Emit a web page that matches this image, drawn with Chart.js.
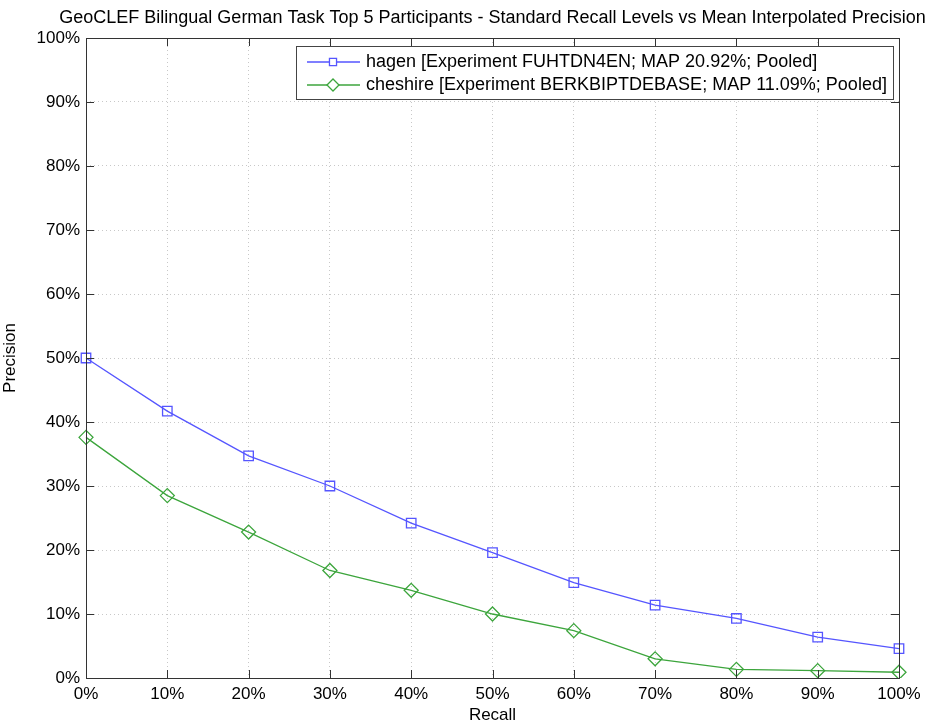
<!DOCTYPE html>
<html>
<head>
<meta charset="utf-8">
<script src="https://cdn.jsdelivr.net/npm/chart.js@4.4.1/dist/chart.umd.min.js"></script>
<style>
  html, body { margin: 0; padding: 0; background: #fff; }
  #wrap { width: 930px; height: 726px; position: relative; }
</style>
</head>
<body>
<div id="wrap"><canvas id="prChart" width="930" height="726"></canvas></div>
<script>
// recall levels and interpolated precision
const recallLevels = ['0%', '10%', '20%', '30%', '40%', '50%', '60%', '70%', '80%', '90%', '100%'];
const hagenPrecision = [50.0, 41.7, 34.7, 30.0, 24.2, 19.6, 14.9, 11.4, 9.3, 6.4, 4.6];
const cheshirePrecision = [37.6, 28.5, 22.8, 16.8, 13.7, 10.0, 7.4, 3.0, 1.35, 1.15, 0.9];
const yTicks = [0, 10, 20, 30, 40, 50, 60, 70, 80, 90, 100];

const titleText = 'GeoCLEF Bilingual German Task Top 5 Participants - Standard Recall Levels vs Mean Interpolated Precision';
const fontFamily = '"Liberation Sans", Arial, Helvetica, sans-serif';

// title, box, inward ticks and legend drawn the matlab way
const matlabLook = {
    id: 'matlabLook',
    afterDraw(chart) {
        const ctx = chart.ctx;
        const area = chart.chartArea;
        const xs = chart.scales.x;
        const ys = chart.scales.y;

        ctx.save();
        // title
        ctx.fillStyle = '#000';
        ctx.font = '18px ' + fontFamily;
        ctx.textAlign = 'center';
        ctx.textBaseline = 'middle';
        ctx.fillText(titleText, (area.left + area.right) / 2, 18);

        // box
        ctx.strokeStyle = '#333';
        ctx.lineWidth = 1;
        ctx.strokeRect(area.left + 0.5, area.top + 0.5, area.right - area.left, area.bottom - area.top);

        // inward ticks on all four sides
        const len = 8;
        ctx.beginPath();
        for (let i = 0; i < recallLevels.length; i++) {
            const px = Math.round(xs.getPixelForValue(i)) + 0.5;
            ctx.moveTo(px, area.bottom); ctx.lineTo(px, area.bottom - len);
            ctx.moveTo(px, area.top); ctx.lineTo(px, area.top + len);
        }
        yTicks.forEach(function (v) {
            const py = Math.round(ys.getPixelForValue(v)) + 0.5;
            ctx.moveTo(area.left, py); ctx.lineTo(area.left + len, py);
            ctx.moveTo(area.right, py); ctx.lineTo(area.right - len, py);
        });
        ctx.stroke();

        // legend box inside top right
        const box = { x: 296, y: 46, w: 597, h: 53 };
        ctx.fillStyle = '#fff';
        ctx.fillRect(box.x, box.y, box.w, box.h);
        ctx.strokeStyle = '#444';
        ctx.strokeRect(box.x + 0.5, box.y + 0.5, box.w, box.h);

        const rows = [62, 85];
        chart.data.datasets.forEach(function (ds, i) {
            const y = rows[i];
            ctx.strokeStyle = ds.borderColor;
            ctx.lineWidth = ds.borderWidth;
            ctx.beginPath();
            ctx.moveTo(307, y); ctx.lineTo(360, y);
            ctx.stroke();
            ctx.fillStyle = '#fff';
            Chart.helpers.drawPoint(ctx, {
                pointStyle: ds.pointStyle,
                radius: ds.pointStyle === 'rect' ? 5 : 6,
                rotation: 0,
                borderWidth: ds.pointBorderWidth
            }, 333, y);
            ctx.fillStyle = '#000';
            ctx.font = '18px ' + fontFamily;
            ctx.textAlign = 'left';
            ctx.textBaseline = 'middle';
            ctx.fillText(ds.label, 366, y);
        });
        ctx.restore();
    }
};

const ctx = document.getElementById('prChart').getContext('2d');
const prChart = new Chart(ctx, {
    type: 'line',
    data: {
        labels: recallLevels,
        datasets: [{
            label: 'hagen [Experiment FUHTDN4EN; MAP 20.92%; Pooled]',
            data: hagenPrecision,
            borderColor: 'rgb(85, 85, 255)',
            backgroundColor: 'rgba(0, 0, 0, 0)',
            borderWidth: 1.3,
            pointStyle: 'rect',
            pointRadius: 6.7,
            pointBorderWidth: 1.3,
            pointBorderColor: 'rgb(85, 85, 255)',
            pointBackgroundColor: 'rgba(0, 0, 0, 0)',
            tension: 0
        }, {
            label: 'cheshire [Experiment BERKBIPTDEBASE; MAP 11.09%; Pooled]',
            data: cheshirePrecision,
            borderColor: 'rgb(60, 165, 60)',
            backgroundColor: 'rgba(0, 0, 0, 0)',
            borderWidth: 1.3,
            pointStyle: 'rectRot',
            pointRadius: 7,
            pointBorderWidth: 1.3,
            pointBorderColor: 'rgb(60, 165, 60)',
            pointBackgroundColor: 'rgba(0, 0, 0, 0)',
            tension: 0
        }]
    },
    options: {
        responsive: false,
        animation: false,
        devicePixelRatio: 1,
        layout: { padding: { top: 38, right: 31, left: 0, bottom: 0 } },
        plugins: {
            legend: { display: false },
            title: { display: false },
            tooltip: { enabled: false }
        },
        scales: {
            x: {
                offset: false,
                grid: {
                    color: '#c8c8c8',
                    tickLength: 0,
                    drawTicks: false
                },
                border: { display: false, dash: [1, 3] },
                ticks: {
                    color: '#000',
                    padding: 6,
                    maxRotation: 0,
                    font: { family: fontFamily, size: 17 }
                },
                title: {
                    display: true,
                    text: 'Recall',
                    color: '#000',
                    padding: { top: -2, bottom: 0 },
                    font: { family: fontFamily, size: 17 }
                },
                afterFit: function (scale) { scale.height = 48; }
            },
            y: {
                min: 0,
                max: 100,
                afterBuildTicks: function (scale) {
                    scale.ticks = yTicks.map(function (v) { return { value: v }; });
                },
                grid: {
                    color: '#c8c8c8',
                    drawTicks: false
                },
                border: { display: false, dash: [1, 3] },
                ticks: {
                    color: '#000',
                    padding: 6,
                    font: { family: fontFamily, size: 17 },
                    callback: function (v) { return v + '%'; }
                },
                title: {
                    display: true,
                    text: 'Precision',
                    color: '#000',
                    padding: { top: 0, bottom: 0 },
                    font: { family: fontFamily, size: 17 }
                },
                afterFit: function (scale) { scale.width = 86; }
            }
        }
    },
    plugins: [matlabLook]
});
</script>
</body>
</html>
